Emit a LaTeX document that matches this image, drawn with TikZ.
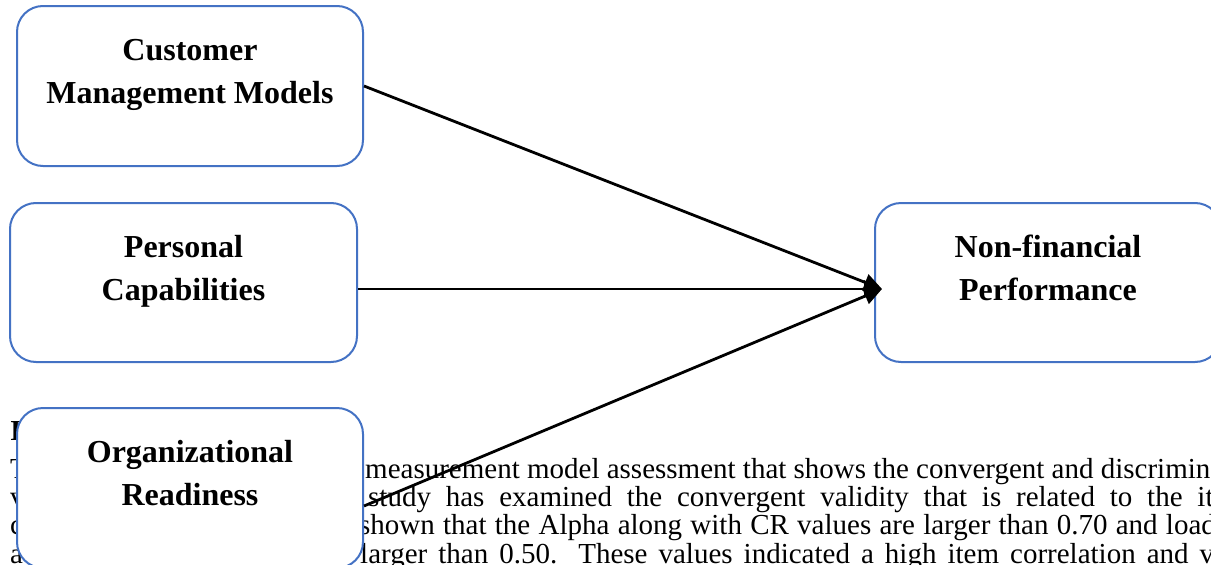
\documentclass[tikz,border=0pt]{standalone}
\usepackage{fontspec}
\setmainfont{Liberation Serif}
\usetikzlibrary{arrows.meta}
\definecolor{boxblue}{HTML}{4472C4}

\begin{document}
\begin{tikzpicture}[x=1pt,y=-1pt,
  construct/.style={draw=boxblue, line width=2pt, fill=white,
    rounded corners=26pt, minimum width=346pt, minimum height=160pt,
    inner sep=0pt},
  boxtext/.style={anchor=north, align=center, inner sep=0pt,
    font=\fontsize{32}{43}\selectfont\bfseries},
  pagetext/.style={anchor=base west, inner sep=0pt,
    font=\fontsize{29}{29}\selectfont},
  path arrow/.style={line width=2.8pt, -{Triangle[length=18pt,width=17pt]}}
]
\useasboundingbox (0,0) rectangle (1211,565);
\clip (0,0) rectangle (1211,565);

% running text of the page behind the figure
\node[pagetext, font=\fontsize{29}{29}\selectfont\bfseries] (h1) at (10,440) {I};
\node[pagetext] (t1) at (10,478) {T};
\node[pagetext] (t2) at (365,478) {measurement model assessment that shows the convergent and discriminant};
\node[pagetext] (v1) at (10,506) {v};
\node[pagetext] (v2) at (368,506) {\makebox[892pt][s]{study has examined the convergent validity that is related to the items}};
\node[pagetext] (c1) at (10,534) {c};
\node[pagetext] (c2) at (359,534) {\makebox[905pt][s]{shown that the Alpha along with CR values are larger than 0.70 and loadings}};
\node[pagetext] (a1) at (10,563) {a};
\node[pagetext] (a2) at (360,563) {\makebox[928pt][s]{larger than 0.50. These values indicated a high item correlation and validity}};

% constructs
\node[construct] (cmm) at (190,86) {};
\node[boxtext] (cmmtxt) at ([yshift=-25pt]cmm.north) {\strut Customer\\Management Models};

\node[construct, minimum width=347pt, minimum height=159pt] (pc) at (183.5,282.5) {};
\node[boxtext] (pctxt) at ([yshift=-25pt]pc.north) {\strut Personal\\Capabilities};

\node[construct] (orr) at (190,488) {};
\node[boxtext] (ortxt) at ([yshift=-25pt]orr.north) {\strut Organizational\\Readiness};

\node[construct, minimum height=159pt] (nfp) at (1048,282.5) {};
\node[boxtext] (nfptxt) at ([yshift=-25pt]nfp.north) {\strut Non-financial\\Performance};

% paths into non-financial performance
\coordinate (hub) at ([xshift=8pt,yshift=-6.5pt]nfp.west);
\draw[path arrow] (cmm.east) -- (hub);
\draw[path arrow] ([yshift=-6.5pt]pc.east) -- (hub);
\draw[path arrow] ([yshift=-18pt]orr.east) -- (hub);
\end{tikzpicture}
\end{document}
